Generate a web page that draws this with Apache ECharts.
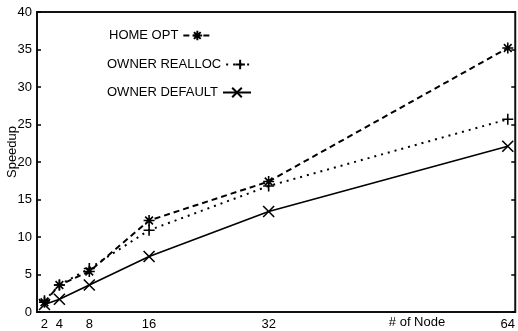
<!DOCTYPE html>
<html>
<head>
<meta charset="utf-8">
<script src="https://cdn.jsdelivr.net/npm/echarts@6/dist/echarts.min.js"></script>
<style>
  html, body { margin: 0; padding: 0; background: #fff; }
  #chart { width: 518px; height: 331px; }
</style>
</head>
<body>
<div id="chart"></div>
<script>
// Node counts on the x axis and measured speedups per allocation policy
const nodes = [2, 4, 8, 16, 32, 64];
const homeOpt = [1.3, 3.6, 5.4, 12.2, 17.4, 35.2];
const ownerRealloc = [1.5, 3.6, 5.8, 10.9, 16.8, 25.7];
const ownerDefault = [1.0, 1.7, 3.6, 7.4, 13.4, 22.1];
const yTicks = [0, 5, 10, 15, 20, 25, 30, 35, 40];
const seriesNames = ['HOME OPT', 'OWNER REALLOC', 'OWNER DEFAULT'];

const pairs = vals => nodes.map((n, i) => [n, vals[i]]);

// Stroked marker glyphs
const SYM_STAR = 'path://M5,0L5,10M0,5L10,5M1.5,1.5L8.5,8.5M8.5,1.5L1.5,8.5';
const SYM_PLUS = 'path://M5,0L5,10M0,5L10,5';
const SYM_CROSS = 'path://M0,0L10,10M10,0L0,10';

const font = 'Liberation Sans, Arial, Helvetica, sans-serif';

function lineSeries(name, vals, symbol, size, type, width) {
  return {
    name, type: 'line', data: pairs(vals),
    symbol, symbolSize: size,
    lineStyle: { color: '#000', width, type },
    itemStyle: { color: '#000', borderColor: '#000', borderWidth: 1.6 },
    emphasis: { disabled: true },
    animation: false
  };
}

// One legend block per series so every label starts at the same left edge
const legendTops = [24, 53, 81];
const legendLefts = [104, 102, 102];
const legends = seriesNames.map((name, i) => ({
  orient: 'vertical',
  left: legendLefts[i],
  top: legendTops[i],
  align: 'right',
  itemWidth: 28, itemHeight: 12,
  textStyle: { fontFamily: font, fontSize: 13, color: '#000' },
  data: [name]
}));

const chart = echarts.init(document.getElementById('chart'), null, { renderer: 'canvas' });
chart.setOption({
  backgroundColor: '#fff',
  animation: false,
  grid: {
    left: 37, right: 1, top: 12, bottom: 17,
    show: true, borderColor: '#111', borderWidth: 2
  },
  legend: legends,
  xAxis: {
    type: 'value', min: 1, max: 65,
    axisLine: { show: false },
    splitLine: { show: false },
    axisTick: { show: false },
    axisLabel: {
      customValues: nodes, margin: 6,
      fontFamily: font, fontSize: 13, color: '#000'
    }
  },
  yAxis: [
    {
      type: 'value', min: 0, max: 40, interval: 5,
      axisLine: { show: false },
      splitLine: { show: false },
      axisTick: { show: true, inside: true, length: 4, lineStyle: { color: '#000', width: 1.5 }, customValues: yTicks },
      axisLabel: { margin: 5, fontFamily: font, fontSize: 13, color: '#000', customValues: yTicks }
    },
    {
      type: 'value', min: 0, max: 40, interval: 5, position: 'right',
      axisLine: { show: false },
      splitLine: { show: false },
      axisTick: { show: true, inside: true, length: 4, lineStyle: { color: '#000', width: 1.5 } },
      axisLabel: { show: false }
    }
  ],
  graphic: [
    {
      type: 'text', x: 6, y: 152, rotation: Math.PI / 2,
      style: { text: 'Speedup', font: '13px ' + font, fill: '#000', align: 'center', verticalAlign: 'top' }
    },
    {
      type: 'text', x: 417, y: 322,
      style: { text: '# of Node', font: '13px ' + font, fill: '#000', align: 'center', verticalAlign: 'middle' }
    }
  ],
  series: [
    lineSeries(seriesNames[0], homeOpt, SYM_STAR, 11, [6, 4], 2),
    lineSeries(seriesNames[1], ownerRealloc, SYM_PLUS, 11, [2, 5], 2),
    lineSeries(seriesNames[2], ownerDefault, SYM_CROSS, 11, 'solid', 1.6)
  ]
});
</script>
</body>
</html>
